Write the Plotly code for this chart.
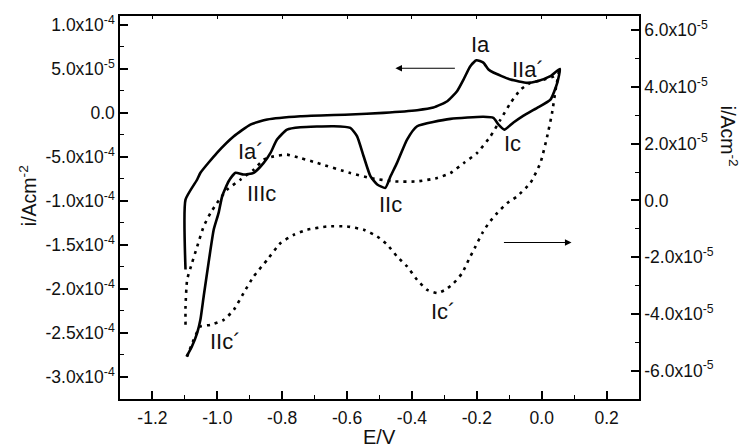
import plotly.graph_objects as go

# Cyclic voltammogram, solid trace (left axis, A/cm^2)
solid_E = [-1.098, -1.098, -1.062, -1.052, -1.001, -0.949, -0.898, -0.846, -0.744, -0.590,
           -0.488, -0.384, -0.334, -0.291, -0.261, -0.241, -0.220, -0.201, -0.180, -0.164,
           -0.149, -0.096, -0.045, -0.014, 0.027, 0.056,
           0.048, 0.027, -0.014, -0.056, -0.087, -0.115, -0.133, -0.149, -0.180, -0.281,
           -0.384, -0.415, -0.446, -0.466, -0.482, -0.507, -0.528, -0.549, -0.569, -0.590,
           -0.641, -0.744, -0.785, -0.816, -0.836, -0.857, -0.888, -0.919, -0.944, -0.965,
           -0.985, -0.996, -1.011, -1.027, -1.042, -1.052, -1.062, -1.078, -1.095]
solid_i = [-1.780e-4, -0.985e-4, -0.757e-4, -0.681e-4, -0.454e-4, -0.266e-4, -0.133e-4, -0.076e-4,
           -0.039e-4, -0.019e-4, 0.000e-4, 0.030e-4, 0.060e-4, 0.132e-4, 0.245e-4, 0.378e-4,
           0.529e-4, 0.597e-4, 0.571e-4, 0.492e-4, 0.458e-4, 0.378e-4, 0.341e-4, 0.359e-4,
           0.416e-4, 0.500e-4,
           0.341e-4, 0.151e-4, 0.057e-4, -0.031e-4, -0.110e-4, -0.190e-4, -0.133e-4, -0.057e-4,
           -0.045e-4, -0.068e-4, -0.152e-4, -0.303e-4, -0.568e-4, -0.720e-4, -0.852e-4,
           -0.814e-4, -0.720e-4, -0.493e-4, -0.266e-4, -0.170e-4, -0.152e-4, -0.164e-4,
           -0.190e-4, -0.303e-4, -0.454e-4, -0.568e-4, -0.681e-4, -0.701e-4, -0.681e-4,
           -0.777e-4, -0.947e-4, -1.136e-4, -1.325e-4, -1.704e-4, -2.083e-4, -2.348e-4,
           -2.499e-4, -2.651e-4, -2.770e-4]

# Dotted trace (right axis, A/cm^2)
dot_E = [-1.098, -1.098, -1.093, -1.078, -1.062, -1.042, -1.021, -1.001, -0.970, -0.929,
         -0.888, -0.857, -0.826, -0.785, -0.744, -0.692, -0.590, -0.528, -0.456, -0.384,
         -0.322, -0.281, -0.240, -0.199, -0.158, -0.127, -0.096, -0.065, -0.035, 0.006,
         0.037, 0.053, 0.055,
         0.043, 0.032, 0.017, -0.004, -0.035, -0.076, -0.106, -0.137, -0.163, -0.183,
         -0.204, -0.225, -0.245, -0.271, -0.297, -0.322, -0.353, -0.384, -0.415, -0.446,
         -0.476, -0.507, -0.549, -0.600, -0.661, -0.723, -0.764, -0.805, -0.846, -0.888,
         -0.919, -0.949, -0.980, -1.021, -1.052, -1.073, -1.093]
dot_i = [-4.385e-5, -3.739e-5, -2.797e-5, -2.208e-5, -1.623e-5, -0.917e-5, -0.444e-5, -0.092e-5,
         0.377e-5, 0.730e-5, 1.083e-5, 1.436e-5, 1.552e-5, 1.612e-5, 1.496e-5, 1.319e-5,
         0.966e-5, 0.790e-5, 0.670e-5, 0.670e-5, 0.790e-5, 0.966e-5, 1.319e-5, 1.672e-5,
         2.257e-5, 2.847e-5, 3.436e-5, 3.905e-5, 4.141e-5, 4.257e-5, 4.374e-5, 4.550e-5,
         4.650e-5,
         3.905e-5, 3.083e-5, 2.257e-5, 1.319e-5, 0.614e-5, 0.141e-5, -0.092e-5, -0.444e-5,
         -0.797e-5, -1.150e-5, -1.623e-5, -2.092e-5, -2.561e-5, -2.914e-5, -3.150e-5,
         -3.266e-5, -3.150e-5, -2.797e-5, -2.328e-5, -1.975e-5, -1.563e-5, -1.270e-5,
         -1.034e-5, -0.917e-5, -0.917e-5, -1.034e-5, -1.210e-5, -1.503e-5, -2.092e-5,
         -2.681e-5, -3.266e-5, -3.855e-5, -4.208e-5, -4.385e-5, -4.444e-5, -4.914e-5,
         -5.503e-5]

x_ticks = [-1.2, -1.0, -0.8, -0.6, -0.4, -0.2, 0.0, 0.2]
x_labels = ["-1.2", "-1.0", "-0.8", "-0.6", "-0.4", "-0.2", "0.0", "0.2"]
yl_ticks = [1.0e-4, 5.0e-5, 0.0, -5.0e-5, -1.0e-4, -1.5e-4, -2.0e-4, -2.5e-4, -3.0e-4]
yl_labels = ["1.0x10<sup>-4</sup>", "5.0x10<sup>-5</sup>", "0.0", "-5.0x10<sup>-4</sup>",
             "-1.0x10<sup>-4</sup>", "-1.5x10<sup>-4</sup>", "-2.0x10<sup>-4</sup>",
             "-2.5x10<sup>-4</sup>", "-3.0x10<sup>-4</sup>"]
yr_ticks = [6.0e-5, 4.0e-5, 2.0e-5, 0.0, -2.0e-5, -4.0e-5, -6.0e-5]
yr_labels = ["6.0x10<sup>-5</sup>", "4.0x10<sup>-5</sup>", "2.0x10<sup>-5</sup>", "0.0",
             "-2.0x10<sup>-5</sup>", "-4.0x10<sup>-5</sup>", "-6.0x10<sup>-5</sup>"]

# Peak labels: (text, E, i on left axis scale)
peak_labels = [("Ia", -0.188, 0.776e-4), ("IIa´", -0.041, 0.49e-4), ("Ic", -0.090, -0.350e-4),
               ("Ia´", -0.896, -0.440e-4), ("IIIc", -0.864, -0.917e-4), ("IIc", -0.466, -1.041e-4),
               ("IIc´", -0.976, -2.597e-4), ("Ic´", -0.303, -2.257e-4)]

FONT = "Liberation Sans, Arial, sans-serif"
BLACK = "#000000"

fig = go.Figure()
fig.add_trace(go.Scatter(x=solid_E, y=solid_i, mode="lines", yaxis="y",
                         line=dict(color=BLACK, width=2.6, shape="spline", smoothing=0.5),
                         showlegend=False, hoverinfo="skip"))
fig.add_trace(go.Scatter(x=dot_E, y=dot_i, mode="lines", yaxis="y2",
                         line=dict(color=BLACK, width=2.6, dash="3px,5px", shape="spline",
                                   smoothing=0.5),
                         showlegend=False, hoverinfo="skip"))

axis_common = dict(showline=True, linecolor=BLACK, linewidth=1.5, ticks="inside",
                   tickcolor=BLACK, tickwidth=1.5, ticklen=8, showgrid=False, zeroline=False,
                   tickfont=dict(family=FONT, size=17.5, color="#111111"))

fig.update_layout(
    width=746, height=447,
    margin=dict(l=120, r=107, t=16, b=48),
    paper_bgcolor="white", plot_bgcolor="white",
    xaxis=dict(range=[-1.3, 0.3], tickmode="array", tickvals=x_ticks, ticktext=x_labels,
               ticklabelstandoff=2,
               minor=dict(ticks="inside", ticklen=4, tickwidth=1.2, tickcolor=BLACK,
                          dtick=0.1, tick0=-1.3),
               **axis_common),
    xaxis2=dict(range=[-1.3, 0.3], overlaying="x", side="top", showline=True,
                linecolor=BLACK, linewidth=1.5, ticks="inside", ticklen=3, tickwidth=1,
                tickcolor=BLACK, tickmode="array", tickvals=x_ticks, showticklabels=False,
                showgrid=False, zeroline=False),
    yaxis=dict(range=[-3.25e-4, 1.1e-4], tickmode="array", tickvals=yl_ticks,
               ticktext=yl_labels,
               minor=dict(ticks="inside", ticklen=4, tickwidth=1.2, tickcolor=BLACK,
                          dtick=2.5e-5, tick0=0),
               **axis_common),
    yaxis2=dict(range=[-7e-5, 6.5e-5], overlaying="y", side="right", tickmode="array",
                tickvals=yr_ticks, ticktext=yr_labels,
                minor=dict(ticks="inside", ticklen=4, tickwidth=1.2, tickcolor=BLACK,
                           dtick=1e-5, tick0=0),
                **axis_common),
)
# invisible trace so the top axis is drawn
fig.add_trace(go.Scatter(x=[-1.3], y=[None], xaxis="x2", showlegend=False, hoverinfo="skip"))

annotations = []
for txt, e, v in peak_labels:
    annotations.append(dict(x=e, y=v, xref="x", yref="y", text=txt, showarrow=False,
                            font=dict(family=FONT, size=22, color="#111111")))

# scan direction arrows
annotations.append(dict(x=-0.451, y=0.507e-4, ax=-0.263, ay=0.507e-4, xref="x", yref="y",
                        axref="x", ayref="y", showarrow=True, arrowhead=2, arrowsize=1.2,
                        arrowwidth=1.1, arrowcolor=BLACK, text=""))
annotations.append(dict(x=0.092, y=-1.473e-4, ax=-0.121, ay=-1.473e-4, xref="x", yref="y",
                        axref="x", ayref="y", showarrow=True, arrowhead=2, arrowsize=1.2,
                        arrowwidth=1.1, arrowcolor=BLACK, text=""))

# axis titles
annotations.append(dict(x=0.5, y=-0.1, xref="paper", yref="paper", yanchor="middle",
                        text="E/V", showarrow=False,
                        font=dict(family=FONT, size=20, color="#111111")))
annotations.append(dict(x=-0.177, y=0.53, xref="paper", yref="paper", xanchor="center",
                        yanchor="middle", text="i/Acm<sup>-2</sup>",
                        textangle=-90, showarrow=False,
                        font=dict(family=FONT, size=19.5, color="#111111")))
annotations.append(dict(x=1.175, y=0.685, xref="paper", yref="paper", xanchor="center",
                        yanchor="middle", text="i/Acm<sup>-2</sup>",
                        textangle=90, showarrow=False,
                        font=dict(family=FONT, size=19.5, color="#111111")))
fig.update_layout(annotations=annotations)

fig.write_html("out.html")
